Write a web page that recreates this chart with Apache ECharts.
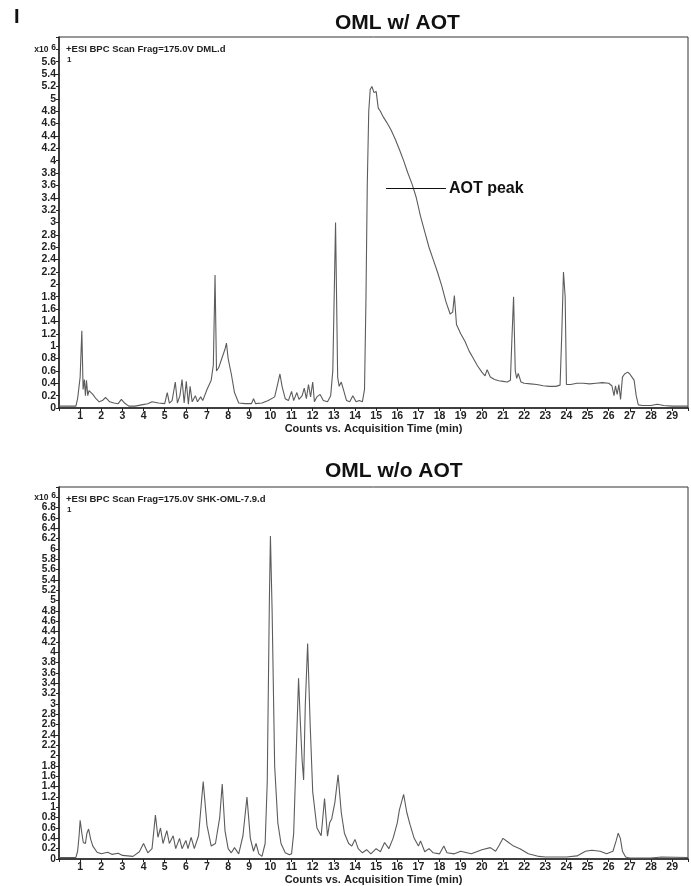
<!DOCTYPE html>
<html>
<head>
<meta charset="utf-8">
<script src="https://cdn.jsdelivr.net/npm/echarts@6/dist/echarts.min.js"></script>
<style>
  html, body { margin: 0; padding: 0; background: #fff; }
  #chart { width: 691px; height: 886px; }
</style>
</head>
<body>
<div id="chart"></div>
<script>
// retention time (min), signal (x10^6 counts)
const withAot = [
  [0,0.03],[0.8,0.03],[0.88,0.15],[0.95,0.18],[1.0,0.5],[1.08,1.25],[1.14,0.3],[1.2,0.46],[1.25,0.2],[1.3,0.45],
  [1.36,0.2],[1.42,0.28],[1.5,0.26],[1.6,0.22],[1.75,0.15],[1.9,0.1],[2.05,0.12],[2.2,0.17],[2.4,0.1],[2.6,0.08],
  [2.8,0.07],[2.95,0.14],[3.1,0.08],[3.3,0.03],[3.6,0.03],[3.9,0.05],[4.2,0.07],[4.4,0.1],[4.7,0.08],[5.0,0.07],
  [5.12,0.25],[5.22,0.08],[5.35,0.12],[5.5,0.42],[5.6,0.08],[5.72,0.2],[5.82,0.46],[5.92,0.08],[6.02,0.43],[6.12,0.06],
  [6.2,0.35],[6.3,0.1],[6.45,0.2],[6.55,0.1],[6.7,0.18],[6.8,0.12],[7.0,0.3],[7.2,0.45],[7.3,0.7],[7.38,2.15],
  [7.45,0.6],[7.55,0.65],[7.7,0.8],[7.85,0.95],[7.92,1.05],[8.0,0.8],[8.15,0.55],[8.3,0.25],[8.5,0.08],[8.8,0.07],
  [9.1,0.07],[9.2,0.15],[9.3,0.07],[9.6,0.08],[9.9,0.12],[10.2,0.18],[10.35,0.4],[10.45,0.55],[10.55,0.35],[10.7,0.15],
  [10.85,0.12],[11.0,0.27],[11.1,0.12],[11.25,0.25],[11.35,0.14],[11.5,0.2],[11.6,0.32],[11.7,0.15],[11.8,0.38],[11.9,0.18],
  [12.0,0.42],[12.08,0.1],[12.2,0.18],[12.35,0.22],[12.5,0.12],[12.7,0.1],[12.85,0.2],[12.95,0.6],[13.08,3.0],[13.18,0.5],
  [13.25,0.35],[13.35,0.42],[13.45,0.3],[13.6,0.12],[13.75,0.1],[13.9,0.2],[14.05,0.1],[14.2,0.12],[14.35,0.1],[14.45,0.3],
  [14.52,1.8],[14.58,3.6],[14.65,4.8],[14.72,5.15],[14.8,5.2],[14.9,5.1],[15.0,5.12],[15.1,4.85],[15.2,4.8],[15.35,4.7],
  [15.5,4.62],[15.7,4.5],[15.9,4.35],[16.1,4.18],[16.3,4.0],[16.5,3.8],[16.7,3.62],[16.9,3.4],[17.1,3.1],[17.3,2.85],
  [17.5,2.6],[17.7,2.4],[17.9,2.2],[18.1,1.98],[18.3,1.72],[18.5,1.52],[18.62,1.55],[18.7,1.82],[18.8,1.35],[19.0,1.2],
  [19.2,1.08],[19.4,0.92],[19.6,0.8],[19.8,0.68],[20.0,0.58],[20.15,0.52],[20.25,0.62],[20.4,0.5],[20.6,0.46],[20.8,0.44],
  [21.0,0.43],[21.2,0.42],[21.35,0.45],[21.42,1.1],[21.5,1.8],[21.58,0.6],[21.65,0.48],[21.72,0.56],[21.85,0.42],[22.0,0.4],
  [22.3,0.39],[22.6,0.38],[22.9,0.36],[23.2,0.35],[23.5,0.35],[23.7,0.37],[23.78,1.2],[23.86,2.2],[23.94,1.8],[24.0,0.38],
  [24.2,0.38],[24.5,0.4],[24.8,0.4],[25.1,0.39],[25.4,0.4],[25.7,0.41],[26.0,0.4],[26.15,0.36],[26.25,0.2],[26.32,0.36],
  [26.4,0.22],[26.48,0.38],[26.56,0.14],[26.65,0.5],[26.75,0.55],[26.9,0.58],[27.0,0.55],[27.1,0.5],[27.2,0.45],[27.3,0.2],
  [27.4,0.05],[27.6,0.04],[28.0,0.04],[28.3,0.06],[28.6,0.04],[29.0,0.03],[29.75,0.03]
];

const withoutAot = [
  [0,0.03],[0.8,0.03],[0.88,0.15],[0.95,0.45],[1.0,0.75],[1.08,0.5],[1.15,0.32],[1.25,0.3],[1.32,0.5],[1.4,0.58],
  [1.5,0.38],[1.6,0.25],[1.8,0.13],[2.0,0.1],[2.3,0.13],[2.5,0.09],[2.8,0.11],[3.0,0.07],[3.5,0.05],[3.8,0.14],
  [4.0,0.3],[4.2,0.12],[4.4,0.2],[4.56,0.85],[4.68,0.42],[4.8,0.6],[4.92,0.3],[5.1,0.55],[5.22,0.3],[5.4,0.45],
  [5.52,0.2],[5.7,0.4],[5.82,0.2],[6.0,0.36],[6.1,0.2],[6.25,0.42],[6.4,0.2],[6.6,0.45],[6.82,1.5],[7.0,0.65],
  [7.2,0.25],[7.4,0.3],[7.6,0.8],[7.72,1.45],[7.85,0.55],[8.0,0.2],[8.15,0.12],[8.3,0.22],[8.5,0.1],[8.7,0.45],
  [8.89,1.2],[9.05,0.4],[9.2,0.15],[9.32,0.3],[9.45,0.1],[9.6,0.05],[9.75,0.3],[9.85,1.5],[9.95,5.0],[10.0,6.25],
  [10.08,4.8],[10.2,1.8],[10.35,0.7],[10.5,0.3],[10.7,0.12],[10.9,0.08],[11.0,0.1],[11.1,0.5],[11.2,1.8],[11.33,3.5],
  [11.42,2.6],[11.5,1.9],[11.57,1.53],[11.65,3.0],[11.76,4.17],[11.88,2.6],[12.0,1.3],[12.2,0.6],[12.4,0.45],[12.56,1.17],
  [12.7,0.44],[12.8,0.7],[12.9,0.78],[13.05,1.1],[13.2,1.63],[13.35,0.9],[13.5,0.5],[13.7,0.3],[13.85,0.25],[14.0,0.38],
  [14.15,0.2],[14.35,0.12],[14.55,0.18],[14.75,0.1],[15.0,0.2],[15.2,0.14],[15.4,0.32],[15.6,0.2],[15.8,0.4],[16.0,0.7],
  [16.1,0.95],[16.3,1.25],[16.45,0.9],[16.6,0.67],[16.8,0.4],[17.0,0.25],[17.1,0.35],[17.3,0.14],[17.5,0.2],[17.7,0.12],
  [18.0,0.1],[18.2,0.25],[18.35,0.12],[18.7,0.1],[19.0,0.15],[19.5,0.1],[20.0,0.18],[20.4,0.22],[20.65,0.15],[20.8,0.25],
  [21.0,0.4],[21.2,0.34],[21.5,0.25],[21.8,0.2],[22.2,0.1],[22.7,0.05],[23.0,0.04],[24.0,0.04],[24.5,0.06],[24.9,0.15],
  [25.2,0.17],[25.6,0.15],[25.9,0.1],[26.2,0.15],[26.35,0.35],[26.45,0.5],[26.55,0.4],[26.65,0.15],[26.8,0.04],[27.0,0.02],
  [28.0,0.02],[28.5,0.04],[29.75,0.03]
];

const panelTitles = ['OML w/ AOT', 'OML w/o AOT'];
const scanLabels = ['+ESI BPC Scan Frag=175.0V DML.d', '+ESI BPC Scan Frag=175.0V SHK-OML-7.9.d'];
const yMax = [6.0, 7.2];
const yLabelSize = [10.5, 10.2];
const xMax = 29.75;
const xName = 'Counts vs. Acquisition Time (min)';
const aotPeakLine = [[15.47, 3.55], [18.3, 3.55]];

const font = 'Liberation Sans';
const chart = echarts.init(document.getElementById('chart'));

function yAxisFor(i) {
  const top = yMax[i] - 0.2;
  return {
    type: 'value', gridIndex: i, min: 0, max: yMax[i], interval: 0.2,
    axisLine: { show: true, lineStyle: { color: '#222', width: 1.5 } },
    axisTick: { show: true, length: 3, lineStyle: { color: '#222' } },
    splitLine: { show: false },
    axisLabel: {
      margin: 3, fontFamily: font, fontWeight: 'bold', fontSize: yLabelSize[i], color: '#222',
      showMinLabel: true, showMaxLabel: true, hideOverlap: false,
      formatter: v => {
        if (Math.abs(v - top) < 1e-6) return '{a|x10} {b|6}';
        if (v > top) return '';
        return String(+v.toFixed(1));
      },
      rich: {
        a: { fontFamily: font, fontWeight: 'bold', fontSize: 8.5, color: '#222' },
        b: { fontFamily: font, fontWeight: 'bold', fontSize: 8.5, color: '#222', padding: [0, 0, 4, 0] }
      }
    }
  };
}

function xAxisFor(i) {
  return {
    type: 'value', gridIndex: i, min: 0, max: xMax, interval: 1,
    name: xName, nameLocation: 'middle', nameGap: 15,
    nameTextStyle: { fontFamily: font, fontWeight: 'bold', fontSize: 11, color: '#222' },
    axisLine: { show: true, onZero: false, lineStyle: { color: '#222', width: 1.5 } },
    axisTick: { show: true, length: 3, lineStyle: { color: '#222' } },
    splitLine: { show: false },
    axisLabel: {
      margin: 3, fontFamily: font, fontWeight: 'bold', fontSize: 10.5, color: '#222',
      hideOverlap: false,
      formatter: v => (v > 0 && Math.abs(v - Math.round(v)) < 1e-6) ? String(v) : ''
    }
  };
}

chart.setOption({
  animation: false,
  backgroundColor: '#fff',
  title: [
    { text: 'I', left: 9, top: 2, textStyle: { fontFamily: font, fontWeight: 'bold', fontSize: 20, color: '#111' } },
    { text: panelTitles[0], left: 330, top: 8, textStyle: { fontFamily: font, fontWeight: 'bold', fontSize: 21, color: '#111' } },
    { text: panelTitles[1], left: 320, top: 456, textStyle: { fontFamily: font, fontWeight: 'bold', fontSize: 21, color: '#111' } },
    { text: scanLabels[0], left: 61, top: 39, textStyle: { fontFamily: font, fontWeight: 'bold', fontSize: 9.5, color: '#222' } },
    { text: '1', left: 62, top: 51, textStyle: { fontFamily: font, fontSize: 8, color: '#222' } },
    { text: scanLabels[1], left: 61, top: 489, textStyle: { fontFamily: font, fontWeight: 'bold', fontSize: 9.5, color: '#222' } },
    { text: '1', left: 62, top: 501, textStyle: { fontFamily: font, fontSize: 8, color: '#222' } }
  ],
  grid: [
    { left: 59, top: 37, right: 0, height: 371, show: true, borderColor: '#333', borderWidth: 1 },
    { left: 59, top: 487, right: 0, height: 376, show: true, borderColor: '#333', borderWidth: 1 }
  ],
  xAxis: [xAxisFor(0), xAxisFor(1)],
  yAxis: [yAxisFor(0), yAxisFor(1)],
  series: [
    {
      type: 'line', xAxisIndex: 0, yAxisIndex: 0, data: withAot,
      showSymbol: false, lineStyle: { color: '#5c5c5c', width: 1.1 },
      markLine: {
        symbol: ['none', 'none'], silent: true,
        lineStyle: { color: '#111', width: 1.2, type: 'solid' },
        label: { show: true, position: 'end', formatter: 'AOT peak', distance: 3,
          fontFamily: font, fontWeight: 'bold', fontSize: 16, color: '#111' },
        data: [[{ coord: aotPeakLine[0] }, { coord: aotPeakLine[1] }]]
      }
    },
    {
      type: 'line', xAxisIndex: 1, yAxisIndex: 1, data: withoutAot,
      showSymbol: false, lineStyle: { color: '#5c5c5c', width: 1.1 }
    }
  ]
});
</script>
</body>
</html>
